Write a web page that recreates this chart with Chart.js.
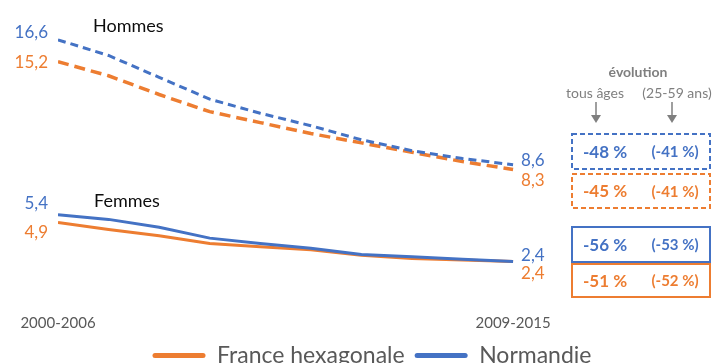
<!DOCTYPE html>
<html>
<head>
<meta charset="utf-8">
<script src="https://cdn.jsdelivr.net/npm/chart.js@4.4.1/dist/chart.umd.min.js"></script>
<style>
  html, body { margin: 0; padding: 0; background: #fff; overflow: hidden; }
  #wrap { position: absolute; left: 0; top: 0; width: 716px; height: 377px; }
</style>
</head>
<body>
<div id="wrap"><canvas id="chart1"></canvas></div>
<script>
// periods (rolling 7-year windows)
var periods = ["2000-2006", "2001-2007", "2002-2008", "2003-2009", "2004-2010",
  "2005-2011", "2006-2012", "2007-2013", "2008-2014", "2009-2015"];

var hommesNormandie = [16.6, 15.6, 14.2, 12.8, 11.9, 11.1, 10.2, 9.5, 9.0, 8.6];
var hommesFrance = [15.2, 14.3, 13.1, 12.0, 11.3, 10.6, 10.0, 9.4, 8.8, 8.3];
var femmesNormandie = [5.4, 5.1, 4.6, 3.9, 3.55, 3.25, 2.85, 2.7, 2.55, 2.4];
var femmesFrance = [4.9, 4.45, 4.05, 3.55, 3.35, 3.15, 2.8, 2.6, 2.5, 2.4];

var legendNames = ["France hexagonale", "Normandie"];
var evoTousAges = ["-48 %", "-45 %", "-56 %", "-51 %"];
var evo2559 = ["(-41 %)", "(-41 %)", "(-53 %)", "(-52 %)"];

var BLUE = "#4472C4";
var ORANGE = "#ED7D31";
var GREY = "#595959";

function pts(arr) {
  return arr.map(function (v, i) { return { x: i, y: v }; });
}
function fmt(v) {
  return v.toFixed(1).replace(".", ",");
}

// label offsets next to first / last point
var series = [
  { data: hommesNormandie, color: BLUE, startDy: -7, endDy: -4 },
  { data: hommesFrance, color: ORANGE, startDy: 1, endDy: 11 },
  { data: femmesNormandie, color: BLUE, startDy: -11, endDy: -6 },
  { data: femmesFrance, color: ORANGE, startDy: 10, endDy: 12 },
];

const annotations = {
  id: "annotations",
  afterDatasetsDraw: (chart) => {
    const { ctx, scales: { x, y } } = chart;
    const last = periods.length - 1;
    ctx.save();
    ctx.textBaseline = "middle";

    //values at both ends of each line
    ctx.font = "17px Lato";
    series.forEach(function (s) {
      ctx.fillStyle = s.color;
      ctx.textAlign = "right";
      ctx.fillText(fmt(s.data[0]), x.getPixelForValue(0) - 10, y.getPixelForValue(s.data[0]) + s.startDy);
      ctx.textAlign = "left";
      ctx.fillText(fmt(s.data[last]), x.getPixelForValue(last) + 8, y.getPixelForValue(s.data[last]) + s.endDy);
    });

    //group titles
    ctx.fillStyle = "#0d0d0d";
    ctx.font = "18px Lato";
    ctx.textAlign = "left";
    ctx.fillText("Hommes", 93, 26);
    ctx.fillText("Femmes", 94, 201);

    //evolution header
    ctx.fillStyle = "#7f7f7f";
    ctx.textAlign = "center";
    ctx.font = "bold 14px Lato";
    ctx.fillText("évolution", 638, 72);
    ctx.font = "14px Lato";
    ctx.fillText("tous âges", 595, 93);
    ctx.fillText("(25-59 ans)", 677, 93);

    //arrows
    ctx.strokeStyle = "#7f7f7f";
    ctx.lineWidth = 1.5;
    [596, 672].forEach(function (ax) {
      ctx.beginPath();
      ctx.moveTo(ax, 102);
      ctx.lineTo(ax, 116);
      ctx.stroke();
      ctx.beginPath();
      ctx.moveTo(ax - 5, 115);
      ctx.lineTo(ax + 5, 115);
      ctx.lineTo(ax, 123);
      ctx.closePath();
      ctx.fill();
    });

    //evolution boxes
    var boxes = [
      { top: 134, bottom: 169, color: BLUE, dash: [5, 3] },
      { top: 174, bottom: 208, color: ORANGE, dash: [5, 3] },
      { top: 227, bottom: 262, color: BLUE, dash: [] },
      { top: 264, bottom: 297, color: ORANGE, dash: [] },
    ];
    boxes.forEach(function (b, i) {
      ctx.setLineDash(b.dash);
      ctx.strokeStyle = b.color;
      ctx.lineWidth = 2;
      ctx.strokeRect(572, b.top, 138, b.bottom - b.top);
      ctx.setLineDash([]);
      var cy = (b.top + b.bottom) / 2 + 1;
      ctx.fillStyle = b.color;
      ctx.font = "bold 17px Lato";
      ctx.fillText(evoTousAges[i], 605, cy);
      ctx.font = "bold 15px Lato";
      ctx.fillText(evo2559[i], 675, cy);
    });
    ctx.restore();
  },
};

const ctx = document.getElementById("chart1");

var myChart = new Chart(ctx, {
  type: "line",
  data: {
    datasets: [
      {
        label: "Normandie hommes",
        data: pts(hommesNormandie),
        borderColor: BLUE,
        backgroundColor: BLUE,
        borderWidth: 3,
        borderDash: [8, 5],
        order: 0,
      },
      {
        label: "France hexagonale hommes",
        data: pts(hommesFrance),
        borderColor: ORANGE,
        backgroundColor: ORANGE,
        borderWidth: 3.5,
        borderDash: [11, 6],
        order: 1,
      },
      {
        label: "Normandie",
        data: pts(femmesNormandie),
        borderColor: BLUE,
        backgroundColor: BLUE,
        borderWidth: 3,
        order: 0,
      },
      {
        label: "France hexagonale",
        data: pts(femmesFrance),
        borderColor: ORANGE,
        backgroundColor: ORANGE,
        borderWidth: 3,
        order: 1,
      },
    ],
  },
  options: {
    responsive: true,
    maintainAspectRatio: false,
    animation: false,
    events: [],
    elements: {
      point: { radius: 0 },
      line: { tension: 0 },
    },
    layout: {
      padding: { left: 58, right: 30, top: 18, bottom: 0 },
    },
    plugins: {
      tooltip: { enabled: false },
      legend: {
        position: "bottom",
        labels: {
          boxWidth: 53,
          boxHeight: 5,
          padding: 10,
          color: GREY,
          useBorderRadius: true,
          borderRadius: 2.5,
          font: { family: "Lato", size: 23 },
          generateLabels: function () {
            return legendNames.map(function (name, i) {
              var c = i === 0 ? ORANGE : BLUE;
              return {
                text: name,
                fillStyle: c,
                strokeStyle: c,
                lineWidth: 0,
                borderRadius: 2.5,
                fontColor: GREY,
                hidden: false,
              };
            });
          },
        },
      },
    },
    scales: {
      x: {
        type: "linear",
        min: 0,
        max: 12.42,
        grid: { display: false, drawTicks: false },
        border: { display: false },
        afterBuildTicks: function (axis) {
          axis.ticks = [{ value: 0 }, { value: periods.length - 1 }];
        },
        ticks: {
          padding: 0,
          color: GREY,
          font: { family: "Lato", size: 15, lineHeight: 1.5 },
          maxRotation: 0,
          autoSkip: false,
          callback: function (value) {
            return periods[value];
          },
        },
      },
      y: {
        display: false,
        min: -0.8,
        max: 18,
      },
    },
  },
  plugins: [annotations],
});
</script>
</body>
</html>
